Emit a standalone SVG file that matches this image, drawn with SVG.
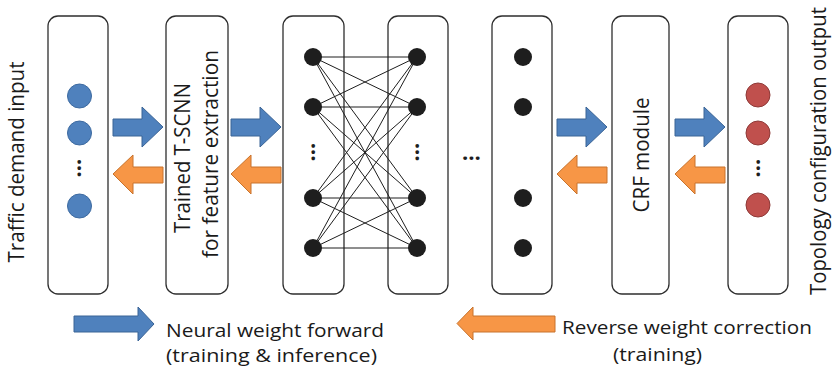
<svg xmlns="http://www.w3.org/2000/svg" width="832" height="374" viewBox="0 0 832 374">
  <style>
    .box { fill: #ffffff; stroke: #2e2e2e; stroke-width: 1.3; }
    .lbl { font-family: "Open Sans", "Noto Sans", sans-serif; fill: #1a1a1a; }
    .vlbl { font-size: 22px; text-anchor: middle; }
    .leg { font-size: 19px; }
    .blue { fill: #4f81bd; stroke: #3a6496; stroke-width: 1; }
    .orange { fill: #f79646; stroke: #c8732c; stroke-width: 1; }
    .inN { fill: #4f81bd; stroke: #3d6aa0; stroke-width: 1; }
    .outN { fill: #c0504d; stroke: #8e3a38; stroke-width: 1; }
    .hid { fill: #1e1e1e; }
    .dots { font-family: "Open Sans", sans-serif; font-size: 22px; font-weight: bold; fill: #1e1e1e; text-anchor: middle; }
    .edge { stroke: #1e1e1e; stroke-width: 1; fill: none; }
  </style>

  <text class="lbl vlbl" transform="translate(24,162) rotate(-90)" textLength="201" lengthAdjust="spacingAndGlyphs">Traffic demand input</text>

  <g id="input-layer">
    <rect class="box" x="48" y="16" width="60" height="278" rx="10"/>
    <circle class="inN" cx="79.5" cy="96" r="12"/>
    <circle class="inN" cx="79.5" cy="133" r="12"/>
    <circle class="inN" cx="79.5" cy="206" r="12"/>
    <text class="dots" transform="translate(81,168) rotate(-90)">…</text>
  </g>

  <g id="tscnn">
    <rect class="box" x="166" y="16" width="62" height="278" rx="10"/>
    <text class="lbl vlbl" transform="translate(190,158) rotate(-90)" font-size="21" textLength="150" lengthAdjust="spacingAndGlyphs">Trained T-SCNN</text>
    <text class="lbl vlbl" transform="translate(218,154) rotate(-90)" font-size="21" textLength="208" lengthAdjust="spacingAndGlyphs">for feature extraction</text>
  </g>

  <g id="hidden-1">
    <rect class="box" x="283" y="16" width="61" height="278" rx="10"/>
    <text class="dots" transform="translate(314.5,152) rotate(-90)">…</text>
  </g>

  <g id="hidden-2">
    <rect class="box" x="388" y="16" width="60" height="278" rx="10"/>
    <text class="dots" transform="translate(418.5,152) rotate(-90)">…</text>
  </g>

  <text class="dots" x="471.5" y="160">…</text>

  <g id="hidden-n">
    <rect class="box" x="492" y="16" width="60" height="278" rx="10"/>
    <circle class="hid" cx="523" cy="57" r="9"/>
    <circle class="hid" cx="523" cy="107" r="9"/>
    <circle class="hid" cx="523" cy="198" r="9"/>
    <circle class="hid" cx="523" cy="248" r="9"/>
  </g>

  <g id="crf">
    <rect class="box" x="612" y="16" width="57" height="278" rx="10"/>
    <text class="lbl vlbl" transform="translate(649,155) rotate(-90)" textLength="115" lengthAdjust="spacingAndGlyphs">CRF module</text>
  </g>

  <g id="output-layer">
    <rect class="box" x="728" y="16" width="60" height="278" rx="10"/>
    <circle class="outN" cx="758" cy="95" r="12"/>
    <circle class="outN" cx="758" cy="133" r="12"/>
    <circle class="outN" cx="758" cy="205" r="12"/>
    <text class="dots" transform="translate(759.5,168) rotate(-90)">…</text>
  </g>

  <text class="lbl vlbl" transform="translate(826,151) rotate(-90)" font-size="21" textLength="288" lengthAdjust="spacingAndGlyphs">Topology configuration output</text>

  <!-- full connections between the two hidden layers, drawn over the boxes -->
  <g id="connectors">
    <g class="edge">
      <line x1="313" y1="57" x2="417" y2="57"/>
      <line x1="313" y1="57" x2="417" y2="107"/>
      <line x1="313" y1="57" x2="417" y2="198"/>
      <line x1="313" y1="57" x2="417" y2="248"/>
      <line x1="313" y1="107" x2="417" y2="57"/>
      <line x1="313" y1="107" x2="417" y2="107"/>
      <line x1="313" y1="107" x2="417" y2="198"/>
      <line x1="313" y1="107" x2="417" y2="248"/>
      <line x1="313" y1="198" x2="417" y2="57"/>
      <line x1="313" y1="198" x2="417" y2="107"/>
      <line x1="313" y1="198" x2="417" y2="198"/>
      <line x1="313" y1="198" x2="417" y2="248"/>
      <line x1="313" y1="248" x2="417" y2="57"/>
      <line x1="313" y1="248" x2="417" y2="107"/>
      <line x1="313" y1="248" x2="417" y2="198"/>
      <line x1="313" y1="248" x2="417" y2="248"/>
    </g>
    <!-- forward (blue) block arrows -->
    <path class="blue" d="M113,119 H142 V107 L163,127 L142,147 V136 H113 Z"/>
    <path class="blue" d="M231,119 H260 V107 L281,127 L260,147 V136 H231 Z"/>
    <path class="blue" d="M557,119 H586 V107 L607,127 L586,147 V136 H557 Z"/>
    <path class="blue" d="M675,119 H704 V107 L725,127 L704,147 V136 H675 Z"/>
    <!-- backward (orange) block arrows -->
    <path class="orange" d="M113,174 L133,155 V167 H163 V183 H133 V194 Z"/>
    <path class="orange" d="M231,174 L251,155 V167 H281 V183 H251 V194 Z"/>
    <path class="orange" d="M557,174 L577,155 V167 H607 V183 H577 V194 Z"/>
    <path class="orange" d="M675,174 L695,155 V167 H725 V183 H695 V194 Z"/>
  </g>

  <!-- hidden-layer neurons sit on top of their connections -->
  <g id="hidden-1-nodes">
    <circle class="hid" cx="313" cy="57" r="9"/>
    <circle class="hid" cx="313" cy="107" r="9"/>
    <circle class="hid" cx="313" cy="198" r="9"/>
    <circle class="hid" cx="313" cy="248" r="9"/>
  </g>
  <g id="hidden-2-nodes">
    <circle class="hid" cx="417" cy="57" r="9"/>
    <circle class="hid" cx="417" cy="107" r="9"/>
    <circle class="hid" cx="417" cy="198" r="9"/>
    <circle class="hid" cx="417" cy="248" r="9"/>
  </g>

  <!-- legend -->
  <g id="legend">
    <path class="blue" d="M74,316 H138 V307 L154,324 L138,341 V332 H74 Z"/>
    <text class="lbl leg" x="166" y="337" textLength="218" lengthAdjust="spacingAndGlyphs">Neural weight forward</text>
    <text class="lbl leg" x="166" y="362" textLength="211" lengthAdjust="spacingAndGlyphs">(training &amp; inference)</text>
    <path class="orange" d="M457,323.5 L473,307 V316 H555 V332 H473 V340 Z"/>
    <text class="lbl leg" x="562" y="334" textLength="250" lengthAdjust="spacingAndGlyphs">Reverse weight correction</text>
    <text class="lbl leg" x="613" y="361" textLength="89" lengthAdjust="spacingAndGlyphs">(training)</text>
  </g>
</svg>
